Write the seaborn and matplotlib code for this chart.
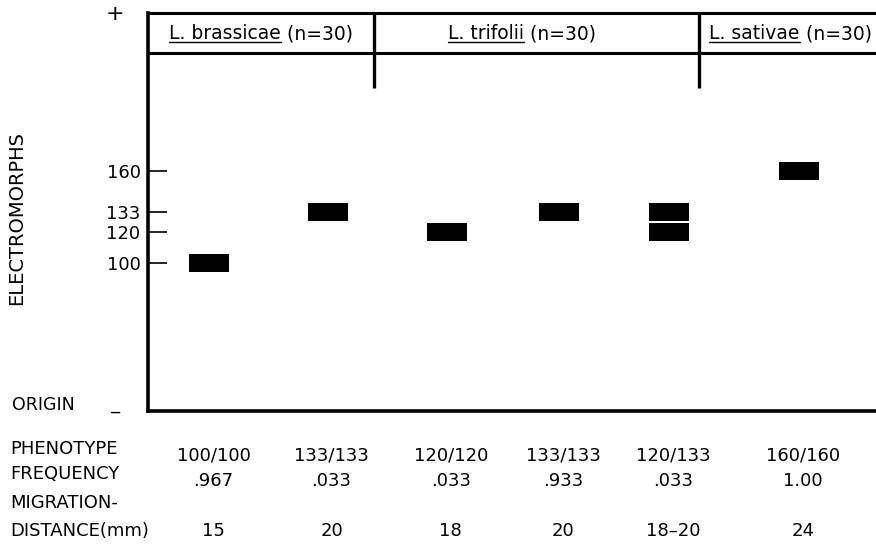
import numpy as np
import pandas as pd
import matplotlib
matplotlib.use("Agg")
import matplotlib.pyplot as plt
import matplotlib.transforms as mtransforms
import seaborn as sns

# ---- data ----
species = ["L. brassicae", "L. trifolii", "L. sativae"]
species_n = [30, 30, 30]
phenotypes = ["100/100", "133/133", "120/120", "133/133", "120/133", "160/160"]
frequency = [".967", ".033", ".033", ".933", ".033", "1.00"]
migration_mm = ["15", "20", "18", "20", "18\u201320", "24"]
electromorph_ticks = [100, 120, 133, 160]

# ---- layout (canvas is 876 x 545 px) ----
W, H = 876, 545
lane_pos = [0, 1.01, 2.03, 2.99, 3.93, 5.04]
divider_pos = [1.41, 4.19]
header_pos = [0.44, 2.67, 4.97]
xlim = (-0.53, 5.70)
ylim = (3.5, 263.1)
header_line = 237.0
divider_bottom = 214.2
band_w, band_h = 40.0, 19.0   # px

# one row per band: heterozygotes give two bands in the same lane
bands = pd.DataFrame(
    [{"lane": lane_pos[i], "allele": int(a)}
     for i, ph in enumerate(phenotypes)
     for a in sorted(set(ph.split("/")))]
)

sns.set_theme(style="white")
plt.rcParams["font.family"] = ["DejaVu Sans"]
plt.rcParams["text.color"] = "black"


def fx(px):
    return px / W


def fy(py):
    return 1 - py / H


fig = plt.figure(figsize=(W / 100, H / 100), dpi=100)
ax = fig.add_axes([fx(147.5), fy(411), 1 - fx(147.5), (411 - 12.5) / H])

rect = [(-band_w / 2, -band_h / 2), (band_w / 2, -band_h / 2),
        (band_w / 2, band_h / 2), (-band_w / 2, band_h / 2)]
size_pt = band_w * 0.72
sns.scatterplot(data=bands, x="lane", y="allele", marker=rect, s=size_pt ** 2,
                color="black", edgecolor="black", linewidth=0, ax=ax, legend=False)

ax.set_xlim(*xlim)
ax.set_ylim(*ylim)
ax.set_xticks([])
ax.set_yticks(electromorph_ticks)
ax.set_yticklabels([str(t) for t in electromorph_ticks])
ax.tick_params(axis="y", direction="in", length=14, width=1.2, pad=5,
               labelsize=13, left=True, colors="black")
ax.set_xlabel("")
ax.set_ylabel("")

ax.spines["right"].set_visible(False)
ax.spines["left"].set_linewidth(2.6)
ax.spines["bottom"].set_linewidth(2.6)
ax.spines["top"].set_linewidth(2.2)
for s in ["left", "bottom", "top"]:
    ax.spines[s].set_color("black")

# header box
ax.axhline(header_line, color="black", lw=2.2)
for d in divider_pos:
    ax.plot([d, d], [divider_bottom, ylim[1]], color="black", lw=2.4,
            solid_capstyle="butt", clip_on=False)

# header labels: species name underlined, then sample size
renderer = fig.canvas.get_renderer()
inv = ax.transData.inverted()
base_y = fig.transFigure.transform((0, fy(39)))[1]
for name, n, xp in zip(species, species_n, header_pos):
    t1 = fig.text(0, 0, name, fontsize=13.5, va="baseline", ha="left",
                  transform=None)
    t2 = fig.text(0, 0, f" (n={n})", fontsize=13.5, va="baseline", ha="left",
                  transform=None)
    w1 = t1.get_window_extent(renderer).width
    w2 = t2.get_window_extent(renderer).width
    cx = ax.transData.transform((xp, 0))[0]
    x0 = cx - (w1 + w2) / 2
    t1.set_position((x0, base_y))
    t2.set_position((x0 + w1, base_y))
    (ux0, uy), (ux1, _) = inv.transform([(x0, base_y - 3), (x0 + w1, base_y - 3)])
    ax.plot([ux0, ux1], [uy, uy], color="black", lw=1.0, clip_on=False)

# left annotations
fig.text(fx(115), fy(14), "+", ha="center", va="center", fontsize=16)
fig.text(fx(17), fy(218), "ELECTROMORPHS", rotation=90, ha="center",
         va="center", fontsize=14)
fig.text(fx(12), fy(405), "ORIGIN", ha="left", va="center", fontsize=12.5)
fig.text(fx(115), fy(404), "_", ha="center", va="center", fontsize=13)

# table below the gel
tr = mtransforms.blended_transform_factory(ax.transData, fig.transFigure)
row_labels = [("PHENOTYPE", 449), ("FREQUENCY", 474), ("MIGRATION-", 503),
              ("DISTANCE(mm)", 531)]
for txt, py in row_labels:
    fig.text(fx(10), fy(py), txt, ha="left", va="center", fontsize=13)

shift = 4 / 117
for row, py in [(phenotypes, 456), (frequency, 481), (migration_mm, 531)]:
    for xp, val in zip(lane_pos, row):
        ax.text(xp + shift, fy(py), val, transform=tr, ha="center",
                va="center", fontsize=13)

fig.savefig("out.png", dpi=100, facecolor="white")
